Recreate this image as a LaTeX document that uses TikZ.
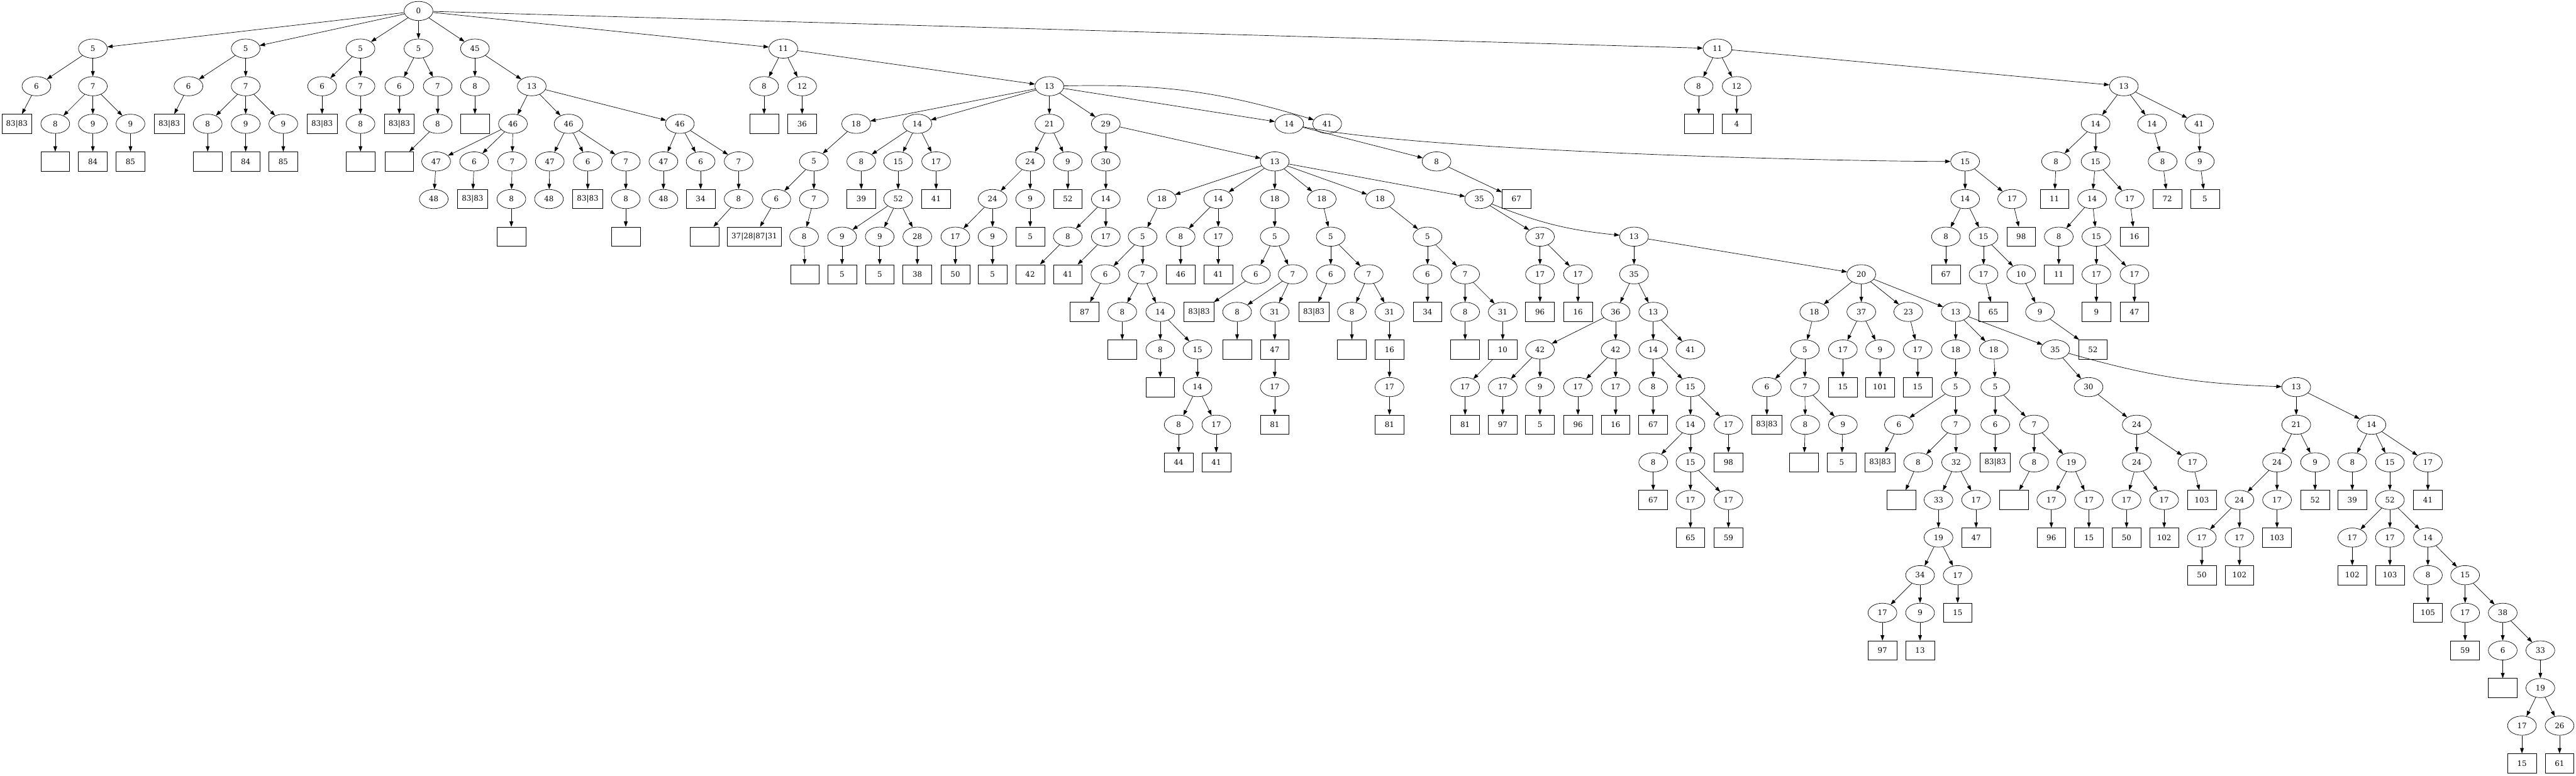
\documentclass[tikz,border=0pt]{standalone}
\usepackage{fontspec}
\setmainfont{DejaVu Serif}
\usetikzlibrary{shapes.geometric,arrows.meta}

\begin{document}
\begin{tikzpicture}[x=0.7347pt, y=-70.53pt, font=\fontsize{14pt}{17pt}\selectfont,
  el/.style={draw, ellipse, line width=0.8pt, minimum width=54pt, minimum height=36pt, inner sep=0pt},
  bx/.style={draw, rectangle, line width=0.8pt, minimum width=54pt, minimum height=36pt, inner xsep=8pt, inner ysep=0pt},
  arr/.style={-{Triangle[length=10pt,width=7pt]}, line width=0.8pt}]
  \useasboundingbox (0,-0.2917) rectangle (6574,20.323);

  % round nodes: row / x / label
  \foreach \r/\x/\t in {0/1068/0,
    1/237/5, 1/627/5, 1/920/5, 1/1068/5, 1/1212/45, 1/1999/11, 1/4383/11,
    2/93/6, 2/237/7, 2/481/6, 2/627/7, 2/822/6, 2/920/7, 2/1019/6, 2/1117/7, 2/1212/8, 2/1357/13,
    2/1950/8, 2/2047/12, 2/2678/13, 2/4335/8, 2/4432/12, 2/5420/13,
    3/141/8, 3/237/9, 3/333/9, 3/530/8, 3/627/9, 3/723/9, 3/920/8, 3/1117/8, 3/1309/46, 3/1451/46,
    3/1735/46, 3/2185/18, 3/2341/14, 3/2678/21, 3/2822/29, 3/3290/14, 3/3387/41, 3/5348/14,
    3/5492/14, 3/5612/41,
    4/1113/47, 4/1210/6, 4/1307/7, 4/1403/47, 4/1500/6, 4/1597/7, 4/1693/47, 4/1788/6, 4/1885/7,
    4/2077/5, 4/2198/8, 4/2292/15, 4/2389/17, 4/2629/24, 4/2725/9, 4/2822/30, 4/3253/13, 4/3666/8,
    4/5015/15, 4/5247/8, 4/5348/15, 4/5519/8, 4/5614/9,
    5/1107/48, 5/1305/8, 5/1401/48, 5/1597/8, 5/1693/48, 5/1885/8, 5/1981/6, 5/2077/7, 5/2292/52,
    5/2533/24, 5/2629/9, 5/2822/14, 5/2965/18, 5/3109/14, 5/3253/18, 5/3373/18, 5/3522/18,
    5/3775/35, 5/5015/14, 5/5135/17, 5/5339/14, 5/5435/17,
    6/2052/8, 6/2149/9, 6/2245/9, 6/2341/28, 6/2438/17, 6/2533/9, 6/2725/8, 6/2822/17, 6/2916/5,
    6/3013/8, 6/3109/17, 6/3253/5, 6/3396/5, 6/3643/5, 6/3930/37, 6/4170/13, 6/4966/8, 6/5062/15,
    6/5254/8, 6/5350/15,
    7/2821/6, 7/2916/7, 7/3205/6, 7/3299/7, 7/3396/6, 7/3493/7, 7/3643/6, 7/3739/7, 7/3930/17,
    7/4027/17, 7/4170/35, 7/4750/20, 7/5062/17, 7/5158/10, 7/5350/17, 7/5447/17,
    8/2864/8, 8/2961/14, 8/3157/8, 8/3253/31, 8/3450/8, 8/3546/31, 8/3739/8, 8/3835/31, 8/4123/36,
    8/4219/13, 8/4630/18, 8/4750/37, 8/4870/23, 8/4991/13, 8/5206/9,
    9/2961/8, 9/3056/15, 9/3930/42, 9/4123/42, 9/4219/14, 9/4314/41, 9/4606/5, 9/4703/17, 9/4798/9,
    9/4894/17, 9/4991/18, 9/5088/18, 9/5245/35,
    10/3056/14, 10/3253/17, 10/3546/17, 10/3739/17, 10/3835/17, 10/3930/9, 10/4027/17, 10/4123/17,
    10/4219/8, 10/4314/15, 10/4509/6, 10/4606/7, 10/4991/5, 10/5092/5, 10/5330/30, 10/5860/13,
    11/3008/8, 11/3104/17, 11/4314/14, 11/4411/17, 11/4607/8, 11/4703/9, 11/4846/6, 11/4991/7,
    11/5092/6, 11/5191/7, 11/5453/24, 11/5860/21, 11/6052/14,
    12/4219/8, 12/4314/15, 12/4895/8, 12/4992/32, 12/5191/8, 12/5286/19, 12/5453/24, 12/5595/17,
    12/5811/24, 12/5908/9, 12/6003/8, 12/6099/15, 12/6196/17,
    13/4314/17, 13/4411/17, 13/4947/33, 13/5043/17, 13/5235/17, 13/5331/17, 13/5427/17, 13/5523/17,
    13/5715/24, 13/5811/17, 13/6099/52,
    14/4947/19, 14/5619/17, 14/5715/17, 14/6003/17, 14/6099/17, 14/6196/14,
    15/4900/34, 15/4996/17, 15/6196/8, 15/6291/15,
    16/4804/17, 16/4900/9, 16/6291/17, 16/6387/38,
    17/6387/6, 17/6483/33,
    18/6483/19,
    19/6436/17, 19/6532/26}
    \node[el] (n\r-\x) at (\x,\r) {\t};

  % box nodes: row / x / label
  \foreach \r/\x/\t in {3/43/83|83, 3/432/83|83, 3/822/83|83, 3/1019/83|83, 3/1212/{}, 3/1950/{},
    3/2047/36, 3/4335/{}, 3/4432/4,
    4/141/{}, 4/237/84, 4/333/85, 4/530/{}, 4/627/84, 4/723/85, 4/920/{}, 4/1019/{},
    5/1206/83|83, 5/1500/83|83, 5/1788/34, 5/2198/39, 5/2389/41, 5/2725/52, 5/3870/67, 5/5243/11,
    5/5531/72, 5/5627/5,
    6/1305/{}, 6/1597/{}, 6/1798/{}, 6/1925/37|28|87|31, 6/2629/5, 6/5158/98, 6/5447/16,
    7/2054/{}, 7/2149/5, 7/2245/5, 7/2341/38, 7/2438/50, 7/2533/5, 7/2629/42, 7/2725/41, 7/3013/46,
    7/3109/41, 7/4966/67, 7/5254/11,
    8/2768/87, 8/3060/83|83, 8/3353/83|83, 8/3643/34, 8/3930/96, 8/4027/16, 8/5087/65, 8/5350/9,
    8/5447/47,
    9/2864/{}, 9/3157/{}, 9/3253/47, 9/3450/{}, 9/3546/16, 9/3739/{}, 9/3835/10, 9/5341/52,
    10/2961/{}, 10/4703/15, 10/4798/101, 10/4894/15,
    11/3253/81, 11/3546/81, 11/3739/81, 11/3835/97, 11/3930/5, 11/4027/96, 11/4123/16, 11/4219/67,
    11/4509/83|83,
    12/3008/44, 12/3104/41, 12/4411/98, 12/4604/{}, 12/4700/5, 12/4798/83|83, 12/5092/83|83,
    13/4219/67, 13/4852/{}, 13/5140/{}, 13/5619/103, 13/5908/52, 13/6003/39, 13/6196/41,
    14/4314/65, 14/4411/59, 14/5043/47, 14/5235/96, 14/5331/15, 14/5427/50, 14/5523/102, 14/5811/103,
    15/5619/50, 15/5715/102, 15/6003/102, 15/6099/103,
    16/4996/15, 16/6196/105,
    17/4804/97, 17/4900/13, 17/6291/59,
    18/6387/{},
    20/6436/15, 20/6532/61}
    \node[bx] (n\r-\x) at (\x,\r) {\t};

  % straight edges
  \foreach \a/\b in {0-1068/1-237, 0-1068/1-627, 0-1068/1-920, 0-1068/1-1068, 0-1068/1-1212,
    0-1068/1-1999, 0-1068/1-4383,
    1-237/2-93, 1-237/2-237, 1-627/2-481, 1-627/2-627, 1-920/2-822, 1-920/2-920, 1-1068/2-1019,
    1-1068/2-1117, 1-1212/2-1212, 1-1212/2-1357, 1-1999/2-1950, 1-1999/2-2047, 1-1999/2-2678,
    1-4383/2-4335, 1-4383/2-4432, 1-4383/2-5420,
    2-93/3-43, 2-237/3-141, 2-237/3-237, 2-237/3-333, 2-481/3-432, 2-627/3-530, 2-627/3-627,
    2-627/3-723, 2-822/3-822, 2-920/3-920, 2-1019/3-1019, 2-1117/3-1117, 2-1212/3-1212,
    2-1357/3-1309, 2-1357/3-1451, 2-1357/3-1735, 2-1950/3-1950, 2-2047/3-2047, 2-2678/3-2185,
    2-2678/3-2341, 2-2678/3-2678, 2-2678/3-2822, 2-2678/3-3290, 2-4335/3-4335, 2-4432/3-4432,
    2-5420/3-5348, 2-5420/3-5492, 2-5420/3-5612,
    3-141/4-141, 3-237/4-237, 3-333/4-333, 3-530/4-530, 3-627/4-627, 3-723/4-723, 3-920/4-920,
    3-1117/4-1019, 3-1309/4-1113, 3-1309/4-1210, 3-1309/4-1307, 3-1451/4-1403, 3-1451/4-1500,
    3-1451/4-1597, 3-1735/4-1693, 3-1735/4-1788, 3-1735/4-1885, 3-2185/4-2077, 3-2341/4-2198,
    3-2341/4-2292, 3-2341/4-2389, 3-2678/4-2629, 3-2678/4-2725, 3-2822/4-2822, 3-2822/4-3253,
    3-3290/4-3666, 3-5348/4-5247, 3-5348/4-5348, 3-5492/4-5519, 3-5612/4-5614,
    4-1113/5-1107, 4-1210/5-1206, 4-1307/5-1305, 4-1403/5-1401, 4-1500/5-1500, 4-1597/5-1597,
    4-1693/5-1693, 4-1788/5-1788, 4-1885/5-1885, 4-2077/5-1981, 4-2077/5-2077, 4-2198/5-2198,
    4-2292/5-2292, 4-2389/5-2389, 4-2629/5-2533, 4-2629/5-2629, 4-2725/5-2725, 4-2822/5-2822,
    4-3253/5-2965, 4-3253/5-3109, 4-3253/5-3253, 4-3253/5-3373, 4-3253/5-3522, 4-3253/5-3775,
    4-3666/5-3870, 4-5015/5-5015, 4-5015/5-5135, 4-5247/5-5243, 4-5348/5-5339, 4-5348/5-5435,
    4-5519/5-5531, 4-5614/5-5627,
    5-1305/6-1305, 5-1597/6-1597, 5-1885/6-1798, 5-1981/6-1925, 5-2077/6-2052, 5-2292/6-2149,
    5-2292/6-2245, 5-2292/6-2341, 5-2533/6-2438, 5-2533/6-2533, 5-2629/6-2629, 5-2822/6-2725,
    5-2822/6-2822, 5-2965/6-2916, 5-3109/6-3013, 5-3109/6-3109, 5-3253/6-3253, 5-3373/6-3396,
    5-3522/6-3643, 5-3775/6-3930, 5-5015/6-4966, 5-5015/6-5062, 5-5135/6-5158, 5-5339/6-5254,
    5-5339/6-5350, 5-5435/6-5447,
    6-2052/7-2054, 6-2149/7-2149, 6-2245/7-2245, 6-2341/7-2341, 6-2438/7-2438, 6-2533/7-2533,
    6-2725/7-2629, 6-2822/7-2725, 6-2916/7-2821, 6-2916/7-2916, 6-3013/7-3013, 6-3109/7-3109,
    6-3253/7-3205, 6-3253/7-3299, 6-3396/7-3396, 6-3396/7-3493, 6-3643/7-3643, 6-3643/7-3739,
    6-3930/7-3930, 6-3930/7-4027, 6-4170/7-4170, 6-4170/7-4750, 6-4966/7-4966, 6-5062/7-5062,
    6-5062/7-5158, 6-5254/7-5254, 6-5350/7-5350, 6-5350/7-5447,
    7-2821/8-2768, 7-2916/8-2864, 7-2916/8-2961, 7-3205/8-3060, 7-3299/8-3157, 7-3299/8-3253,
    7-3396/8-3353, 7-3493/8-3450, 7-3493/8-3546, 7-3643/8-3643, 7-3739/8-3739, 7-3739/8-3835,
    7-3930/8-3930, 7-4027/8-4027, 7-4170/8-4123, 7-4170/8-4219, 7-4750/8-4630, 7-4750/8-4750,
    7-4750/8-4870, 7-4750/8-4991, 7-5062/8-5087, 7-5158/8-5206, 7-5350/8-5350, 7-5447/8-5447,
    8-2864/9-2864, 8-2961/9-2961, 8-2961/9-3056, 8-3157/9-3157, 8-3253/9-3253, 8-3450/9-3450,
    8-3546/9-3546, 8-3739/9-3739, 8-3835/9-3835, 8-4123/9-3930, 8-4123/9-4123, 8-4219/9-4219,
    8-4219/9-4314, 8-4630/9-4606, 8-4750/9-4703, 8-4750/9-4798, 8-4870/9-4894, 8-4991/9-4991,
    8-4991/9-5088, 8-4991/9-5245, 8-5206/9-5341,
    9-2961/10-2961, 9-3056/10-3056, 9-3253/10-3253, 9-3546/10-3546, 9-3835/10-3739,
    9-3930/10-3835, 9-3930/10-3930, 9-4123/10-4027, 9-4123/10-4123, 9-4219/10-4219,
    9-4219/10-4314, 9-4606/10-4509, 9-4606/10-4606, 9-4703/10-4703, 9-4798/10-4798,
    9-4894/10-4894, 9-4991/10-4991, 9-5088/10-5092, 9-5245/10-5330,
    10-3056/11-3008, 10-3056/11-3104, 10-3253/11-3253, 10-3546/11-3546, 10-3739/11-3739,
    10-3835/11-3835, 10-3930/11-3930, 10-4027/11-4027, 10-4123/11-4123, 10-4219/11-4219,
    10-4314/11-4314, 10-4314/11-4411, 10-4509/11-4509, 10-4606/11-4607, 10-4606/11-4703,
    10-4991/11-4846, 10-4991/11-4991, 10-5092/11-5092, 10-5092/11-5191, 10-5330/11-5453,
    10-5860/11-5860, 10-5860/11-6052,
    11-3008/12-3008, 11-3104/12-3104, 11-4314/12-4219, 11-4314/12-4314, 11-4411/12-4411,
    11-4607/12-4604, 11-4703/12-4700, 11-4846/12-4798, 11-4991/12-4895, 11-4991/12-4992,
    11-5092/12-5092, 11-5191/12-5191, 11-5191/12-5286, 11-5453/12-5453, 11-5453/12-5595,
    11-5860/12-5811, 11-5860/12-5908, 11-6052/12-6003, 11-6052/12-6099, 11-6052/12-6196,
    12-4219/13-4219, 12-4314/13-4314, 12-4314/13-4411, 12-4895/13-4852, 12-4992/13-4947,
    12-4992/13-5043, 12-5191/13-5140, 12-5286/13-5235, 12-5286/13-5331, 12-5453/13-5427,
    12-5453/13-5523, 12-5595/13-5619, 12-5811/13-5715, 12-5811/13-5811, 12-5908/13-5908,
    12-6003/13-6003, 12-6099/13-6099, 12-6196/13-6196,
    13-4314/14-4314, 13-4411/14-4411, 13-4947/14-4947, 13-5043/14-5043, 13-5235/14-5235,
    13-5331/14-5331, 13-5427/14-5427, 13-5523/14-5523, 13-5715/14-5619, 13-5715/14-5715,
    13-5811/14-5811, 13-6099/14-6003, 13-6099/14-6099, 13-6099/14-6196,
    14-4947/15-4900, 14-4947/15-4996, 14-5619/15-5619, 14-5715/15-5715, 14-6003/15-6003,
    14-6099/15-6099, 14-6196/15-6196, 14-6196/15-6291,
    15-4900/16-4804, 15-4900/16-4900, 15-4996/16-4996, 15-6196/16-6196, 15-6291/16-6291,
    15-6291/16-6387,
    16-4804/17-4804, 16-4900/17-4900, 16-6291/17-6291, 16-6387/17-6387, 16-6387/17-6483,
    17-6387/18-6387, 17-6483/18-6483,
    18-6483/19-6436, 18-6483/19-6532,
    19-6436/20-6436, 19-6532/20-6532}
    \draw[arr] (n\a) -- (n\b);

  % curved edges
  \draw[arr] (n2-2678) to[bend left=9] (n3-3387);
  \draw[arr] (n3-3290) .. controls (3620,3.73) and (4677,4) .. (n4-5015);
  \draw[arr] (n5-3775) to[bend right=8] (n6-4170);
  \draw[arr] (n9-5245) to[bend right=7] (n10-5860);
\end{tikzpicture}
\end{document}
